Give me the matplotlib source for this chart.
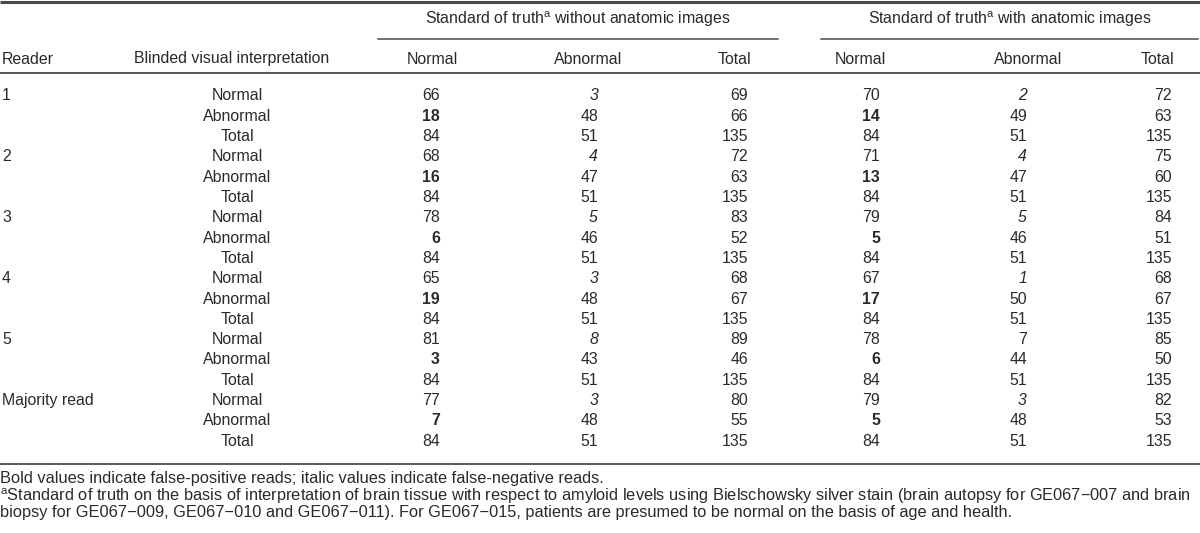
import matplotlib
matplotlib.use("Agg")
import matplotlib.pyplot as plt

plt.rcParams['font.family'] = ['Liberation Sans', 'DejaVu Sans']
plt.rcParams['mathtext.fontset'] = 'custom'
plt.rcParams['mathtext.rm'] = 'Liberation Sans'
plt.rcParams['mathtext.it'] = 'Liberation Sans:italic'

# ---- data ----
readers = ["1", "2", "3", "4", "5", "Majority read"]
interpretations = ["Normal", "Abnormal", "Total"]
group_titles = ["Standard of truth$^{\\mathrm{a}}$ without anatomic images",
                "Standard of truth$^{\\mathrm{a}}$ with anatomic images"]
col_headers = ["Normal", "Abnormal", "Total", "Normal", "Abnormal", "Total"]

# rows: reader x (Normal, Abnormal, Total) ; columns: without (N, A, T), with (N, A, T)
values = [
    [66, 3, 69, 70, 2, 72], [18, 48, 66, 14, 49, 63], [84, 51, 135, 84, 51, 135],
    [68, 4, 72, 71, 4, 75], [16, 47, 63, 13, 47, 60], [84, 51, 135, 84, 51, 135],
    [78, 5, 83, 79, 5, 84], [6, 46, 52, 5, 46, 51], [84, 51, 135, 84, 51, 135],
    [65, 3, 68, 67, 1, 68], [19, 48, 67, 17, 50, 67], [84, 51, 135, 84, 51, 135],
    [81, 8, 89, 78, 7, 85], [3, 43, 46, 6, 44, 50], [84, 51, 135, 84, 51, 135],
    [77, 3, 80, 79, 3, 82], [7, 48, 55, 5, 48, 53], [84, 51, 135, 84, 51, 135],
]
# emphasis: 'b' bold (false positive), 'i' italic (false negative), '' normal
emphasis = [
    ['', 'i', '', '', 'i', ''], ['b', '', '', 'b', '', ''], [''] * 6,
    ['', 'i', '', '', 'i', ''], ['b', '', '', 'b', '', ''], [''] * 6,
    ['', 'i', '', '', 'i', ''], ['b', '', '', 'b', '', ''], [''] * 6,
    ['', 'i', '', '', 'i', ''], ['b', '', '', 'b', '', ''], [''] * 6,
    ['', 'i', '', '', '', ''], ['b', '', '', 'b', '', ''], [''] * 6,
    ['', 'i', '', '', 'i', ''], ['b', '', '', 'b', '', ''], [''] * 6,
]
footnotes = [
    "Bold values indicate false-positive reads; italic values indicate false-negative reads.",
    "$^{\\mathrm{a}}$Standard of truth on the basis of interpretation of brain tissue with respect to amyloid levels using Bielschowsky silver stain (brain autopsy for GE067\u2212007 and brain",
    "biopsy for GE067\u2212009, GE067\u2212010 and GE067\u2212011). For GE067\u2212015, patients are presumed to be normal on the basis of age and health.",
]

# ---- layout (pixel coordinates) ----
W, H = 1200, 533
fig = plt.figure(figsize=(W / 100, H / 100), dpi=100)
ax = fig.add_axes([0, 0, 1, 1])
ax.set_xlim(0, W)
ax.set_ylim(H, 0)
ax.axis('off')

TXT = '#2a2a2a'
LINE = '#4a4a4a'
FS = 11.4
FS_NOTE = 11.8

num_right = [440, 598, 748, 880, 1027, 1172]
head_center = [432, 588, 734, 860, 1028, 1157]
group_span = [(378, 778), (821, 1198)]
reader_x = 2
interp_center = 237
y_group = 19
y_group_line = 39
y_head = 59
y_head_line = 73
y_row0 = 96
row_step = 20.3
y_bottom = 464
y_notes = [479, 496, 512]

# rules
ax.plot([0, W], [1.5, 1.5], color=LINE, lw=2.2, solid_capstyle='butt')
ax.plot([0, W], [y_head_line, y_head_line], color=LINE, lw=1.3)
ax.plot([0, W], [y_bottom, y_bottom], color=LINE, lw=1.3)
for (x0, x1) in group_span:
    ax.plot([x0, x1], [y_group_line, y_group_line], color=LINE, lw=1.1)

# group titles
for (x0, x1), t in zip(group_span, group_titles):
    ax.text((x0 + x1) / 2, y_group, t, ha='center', va='center', fontsize=FS, color=TXT)

# column headers
ax.text(reader_x, y_head, "Reader", ha='left', va='center', fontsize=FS, color=TXT)
ax.text(232, y_head, "Blinded visual interpretation", ha='center', va='center', fontsize=FS, color=TXT)
for x, h in zip(head_center, col_headers):
    ax.text(x, y_head, h, ha='center', va='center', fontsize=FS, color=TXT)

# body
for i, row in enumerate(values):
    y = y_row0 + i * row_step
    if i % 3 == 0:
        ax.text(reader_x, y, readers[i // 3], ha='left', va='center', fontsize=FS, color=TXT)
    ax.text(interp_center, y, interpretations[i % 3], ha='center', va='center', fontsize=FS, color=TXT)
    for j, v in enumerate(row):
        e = emphasis[i][j]
        ax.text(num_right[j], y, str(v), ha='right', va='center', fontsize=FS, color=TXT,
                fontweight='bold' if e == 'b' else 'normal',
                fontstyle='italic' if e == 'i' else 'normal')

# footnotes
for y, t in zip(y_notes, footnotes):
    ax.text(0, y, t, ha='left', va='center', fontsize=FS_NOTE, color=TXT)

fig.savefig("out.png", dpi=100, facecolor='white')
